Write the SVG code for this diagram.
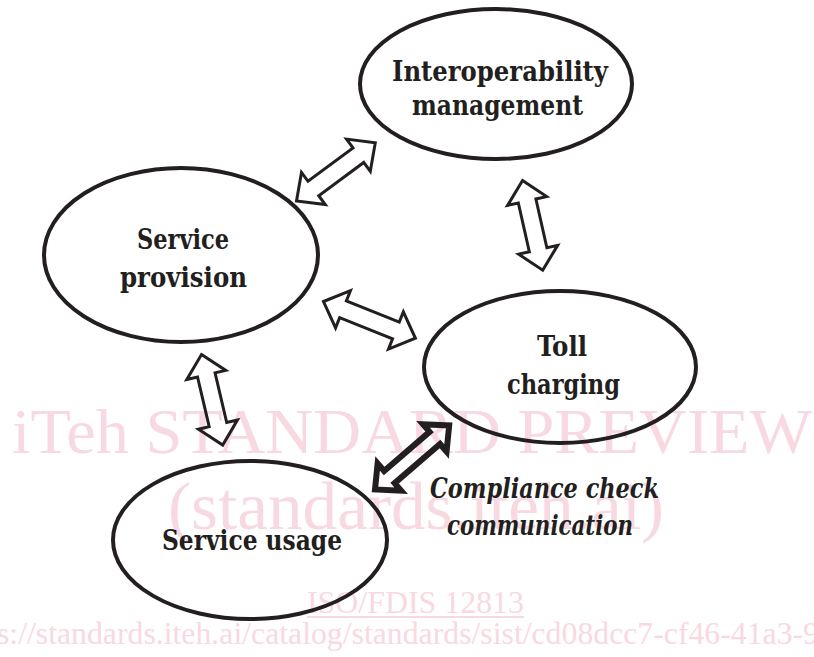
<svg xmlns="http://www.w3.org/2000/svg" width="814" height="657" viewBox="0 0 814 657">
<style>
.wm{font-family:"Liberation Serif","Times New Roman",serif;fill:#f8d9e2}
.node ellipse{fill:none;stroke:#231f20;stroke-width:4}
.lbl{font-family:"DejaVu Serif Condensed","DejaVu Serif","Liberation Serif",serif;font-weight:bold;font-size:27px;fill:#231f20}
.it{font-style:italic}
.arr{fill:none;stroke:#231f20;stroke-width:3;stroke-linejoin:miter}
.arr.thick{stroke-width:6}
</style>
<rect width="814" height="657" fill="#ffffff"/>
<g id="watermark">
<text class="wm" x="12" y="453" font-size="64" textLength="800" lengthAdjust="spacingAndGlyphs">iTeh STANDARD PREVIEW</text>
<text class="wm" x="168" y="529" font-size="68" textLength="496" lengthAdjust="spacingAndGlyphs">(standards.iteh.ai)</text>
<text class="wm" x="307" y="613" font-size="32" textLength="217" lengthAdjust="spacingAndGlyphs">ISO/FDIS 12813</text>
<rect x="307" y="616" width="217" height="2" fill="#f8d9e2"/>
<text class="wm" x="-3" y="644" font-size="31" textLength="822" lengthAdjust="spacingAndGlyphs">s://standards.iteh.ai/catalog/standards/sist/cd08dcc7-cf46-41a3-9</text>
</g>
<g id="connectors">
<polygon class="arr" transform="translate(296.5,201) rotate(-36.5)" points="0,0 21,-20 21,-9 77,-9 77,-20 98,0 77,20 77,9 21,9 21,20"/>
<polygon class="arr" transform="translate(522.5,180.5) rotate(77.3)" points="0,0 21,-20 21,-9 71,-9 71,-20 92,0 71,20 71,9 21,9 21,20"/>
<polygon class="arr" transform="translate(323.5,301.5) rotate(21.8)" points="0,0 21,-20 21,-9 78,-9 78,-20 99,0 78,20 78,9 21,9 21,20"/>
<polygon class="arr" transform="translate(201.5,354.5) rotate(76.8)" points="0,0 21,-20 21,-9 72,-9 72,-20 93,0 72,20 72,9 21,9 21,20"/>
<polygon class="arr thick" transform="translate(375,489.5) rotate(-40.8)" points="0,0 19,-18 19,-8 79,-8 79,-18 98,0 79,18 79,8 19,8 19,18"/>
</g>
<g id="interoperability" class="node">
<ellipse cx="496" cy="84" rx="136" ry="75"/>
<text class="lbl" x="392" y="81" textLength="216" lengthAdjust="spacingAndGlyphs">Interoperability</text>
<text class="lbl" x="412" y="115" textLength="171" lengthAdjust="spacingAndGlyphs">management</text>
</g>
<g id="service-provision" class="node">
<ellipse cx="181" cy="255" rx="137" ry="87"/>
<text class="lbl" x="137" y="249" textLength="92" lengthAdjust="spacingAndGlyphs">Service</text>
<text class="lbl" x="120" y="287" textLength="127" lengthAdjust="spacingAndGlyphs">provision</text>
</g>
<g id="toll-charging" class="node">
<ellipse cx="560" cy="367" rx="136" ry="76"/>
<text class="lbl" x="537" y="356" textLength="50" lengthAdjust="spacingAndGlyphs">Toll</text>
<text class="lbl" x="507" y="394" textLength="113" lengthAdjust="spacingAndGlyphs">charging</text>
</g>
<g id="service-usage" class="node">
<ellipse cx="250" cy="540" rx="137" ry="79"/>
<text class="lbl" x="162" y="550" textLength="180" lengthAdjust="spacingAndGlyphs">Service usage</text>
</g>
<g id="compliance-label">
<text class="lbl it" x="430" y="498" textLength="229" lengthAdjust="spacingAndGlyphs">Compliance check</text>
<text class="lbl it" x="447" y="535" textLength="186" lengthAdjust="spacingAndGlyphs">communication</text>
</g>
</svg>
